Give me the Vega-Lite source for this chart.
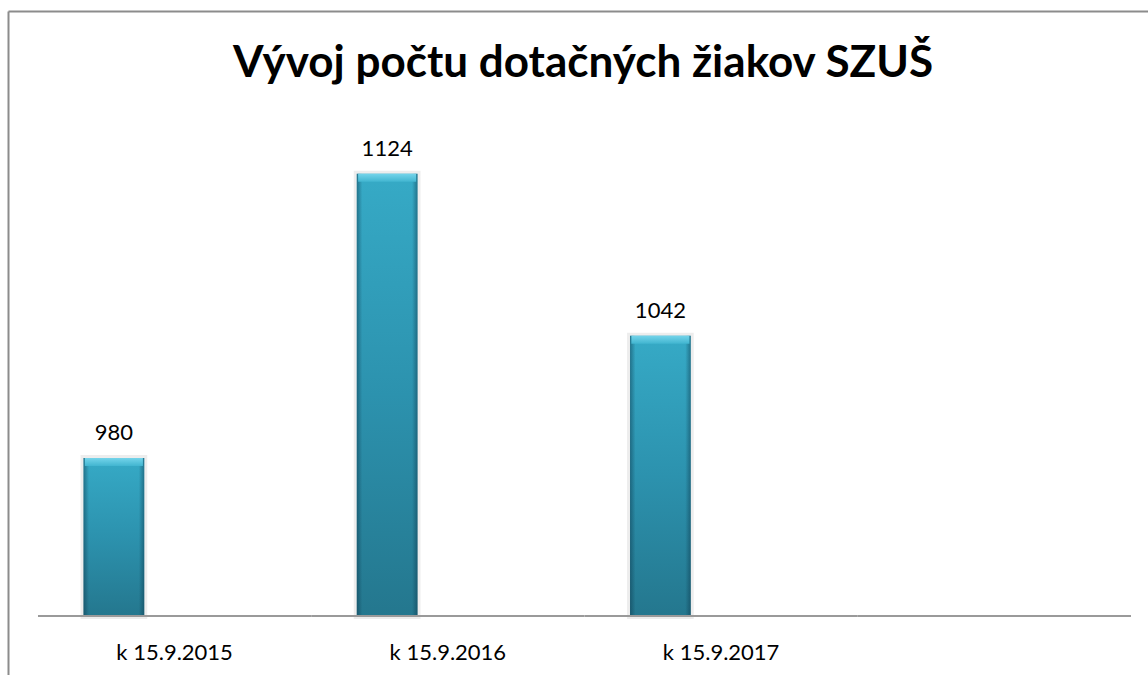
{
  "$schema": "https://vega.github.io/schema/vega-lite/v6.json",
  "width": 1140,
  "height": 664,
  "autosize": "none",
  "padding": {"left": 8, "top": 11, "right": 0, "bottom": 0},
  "background": "white",
  "title": {
    "text": "Vývoj počtu dotačných žiakov SZUŠ",
    "font": "Lato",
    "fontSize": 44,
    "fontWeight": "bold",
    "color": "#000000",
    "anchor": "middle",
    "frame": "group",
    "baseline": "alphabetic",
    "offset": -110,
    "dx": 5
  },
  "config": {"view": {"stroke": null}, "axis": {"grid": false}},
  "datasets": {
    "ziaci": [
      {"obdobie": "k 15.9.2015", "pocet": 980, "rad": "1"},
      {"obdobie": "k 15.9.2016", "pocet": 1124, "rad": "1"},
      {"obdobie": "k 15.9.2017", "pocet": 1042, "rad": "1"}
    ],
    "kategorie": [
      {"obdobie": "k 15.9.2015"},
      {"obdobie": "k 15.9.2016"},
      {"obdobie": "k 15.9.2017"},
      {"obdobie": "prazdne"}
    ]
  },
  "data": {"name": "ziaci"},
  "layer": [
    {
      "mark": {"type": "bar", "fill": "#000000", "fillOpacity": 0.05, "stroke": "#000000", "strokeOpacity": 0.07, "strokeWidth": 6},
      "encoding": {
        "x": {
          "field": "obdobie", "type": "nominal", "sort": null,
          "scale": {"domain": ["k 15.9.2015", "k 15.9.2016", "k 15.9.2017", "prazdne"], "paddingInner": 0, "paddingOuter": 0.086, "align": 0.638},
          "axis": {"orient": "bottom", "offset": -59, "domain": false, "ticks": false, "labelFont": "Lato", "labelFontSize": 22, "labelColor": "#000000", "labelBaseline": "alphabetic", "labelPadding": 43, "labelAngle": 0, "title": null, "labelExpr": "datum.value === 'prazdne' ? '' : datum.label"}
        },
        "xOffset": {"field": "rad", "type": "nominal", "scale": {"domain": ["1", "2", "3"], "paddingInner": 0, "paddingOuter": 0.75}},
        "y": {
          "field": "pocet", "type": "quantitative",
          "scale": {"domain": [870.1, 1206.5], "nice": false, "zero": false},
          "axis": {"orient": "left", "labels": false, "ticks": false, "domain": true, "domainColor": "#8c8c8c", "domainWidth": 2, "title": null, "grid": false}
        },
        "y2": {"datum": 900}
      }
    },
    {
      "mark": {
        "type": "bar",
        "fill": {"gradient": "linear", "x1": 0, "y1": 0, "x2": 0, "y2": 1, "stops": [
          {"offset": 0, "color": "#36aac6"},
          {"offset": 0.5, "color": "#2c92ae"},
          {"offset": 1, "color": "#24778e"}
        ]}
      },
      "encoding": {
        "x": {"field": "obdobie", "type": "nominal", "sort": null, "axis": null},
        "xOffset": {"field": "rad", "type": "nominal"},
        "y": {"field": "pocet", "type": "quantitative", "axis": null},
        "y2": {"datum": 900}
      }
    },
    {
      "mark": {
        "type": "bar",
        "fill": {"gradient": "linear", "x1": 0, "y1": 0, "x2": 1, "y2": 0, "stops": [
          {"offset": 0, "color": "rgba(10,50,70,0.45)"},
          {"offset": 0.09, "color": "rgba(10,50,70,0)"},
          {"offset": 0.91, "color": "rgba(10,50,70,0)"},
          {"offset": 1, "color": "rgba(10,50,70,0.45)"}
        ]}
      },
      "encoding": {
        "x": {"field": "obdobie", "type": "nominal", "sort": null, "axis": null},
        "xOffset": {"field": "rad", "type": "nominal"},
        "y": {"field": "pocet", "type": "quantitative", "axis": null},
        "y2": {"datum": 900}
      }
    },
    {
      "mark": {
        "type": "tick", "orient": "horizontal", "thickness": 8, "size": 58, "yOffset": 4,
        "fill": {"gradient": "linear", "x1": 0, "y1": 0, "x2": 0, "y2": 1, "stops": [
          {"offset": 0, "color": "#74d4ea"},
          {"offset": 1, "color": "#41b5d0"}
        ]},
        "opacity": 1
      },
      "encoding": {
        "x": {"field": "obdobie", "type": "nominal", "sort": null, "axis": null},
        "xOffset": {"field": "rad", "type": "nominal"},
        "y": {"field": "pocet", "type": "quantitative", "axis": null}
      }
    },
    {
      "mark": {"type": "text", "font": "Lato", "fontSize": 22, "baseline": "alphabetic", "dy": -18, "color": "#000000"},
      "encoding": {
        "x": {"field": "obdobie", "type": "nominal", "sort": null, "axis": null},
        "xOffset": {"field": "rad", "type": "nominal"},
        "y": {"field": "pocet", "type": "quantitative", "axis": null},
        "text": {"field": "pocet", "type": "quantitative"}
      }
    },
    {
      "data": {"name": "kategorie"},
      "mark": {"type": "bar", "width": {"band": 1}, "fill": "#ffffff", "fillOpacity": 0, "stroke": "#9a9a9a", "strokeWidth": 2},
      "encoding": {
        "x": {"field": "obdobie", "type": "nominal", "sort": null,
          "axis": {"orient": "top", "labels": false, "ticks": false, "domain": true, "domainColor": "#8c8c8c", "domainWidth": 2, "title": null}},
        "y": {"datum": 900, "type": "quantitative", "axis": null},
        "y2": {"datum": 900}
      }
    }
  ],
  "resolve": {"axis": {"x": "independent", "y": "independent"}}
}
